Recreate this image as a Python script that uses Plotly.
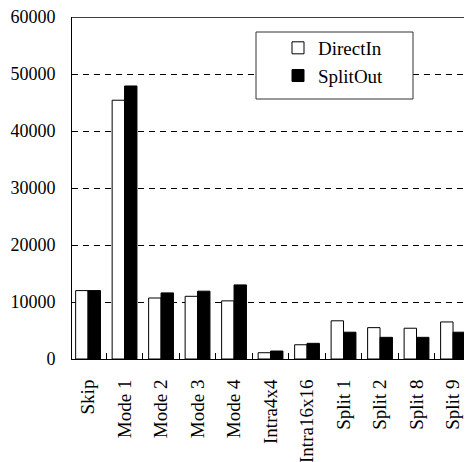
import plotly.graph_objects as go

categories = ["Skip", "Mode 1", "Mode 2", "Mode 3", "Mode 4", "Intra4x4",
              "Intra16x16", "Split 1", "Split 2", "Split 8", "Split 9"]
direct_in = [12000, 45400, 10700, 11000, 10200, 1100, 2500, 6700, 5500, 5400, 6500]
split_out = [12000, 47900, 11600, 11900, 13000, 1400, 2750, 4700, 3800, 3800, 4700]
y_ticks = [0, 10000, 20000, 30000, 40000, 50000, 60000]
y_tick_text = ["0", "10000", "20000", "30000", "40000", "50000", "60000"]

FONT = "Liberation Serif, Times New Roman, serif"

fig = go.Figure()
fig.add_trace(go.Bar(name="DirectIn", x=categories, y=direct_in,
                     marker=dict(color="white", line=dict(color="black", width=1))))
fig.add_trace(go.Bar(name="SplitOut", x=categories, y=split_out,
                     marker=dict(color="black", line=dict(color="black", width=1))))

# page body has an 8px margin, so the figure is sized/offset to compensate
fig.update_layout(
    width=464, height=454,
    margin=dict(l=64, r=0, t=9, b=103, autoexpand=False),
    paper_bgcolor="white", plot_bgcolor="white",
    barmode="group", bargap=0.32, bargroupgap=0.0,
    font=dict(family=FONT, color="black"),
    showlegend=True,
    legend=dict(x=0.515, y=0.965, xanchor="left", yanchor="top",
                bgcolor="rgba(0,0,0,0)", borderwidth=0,
                font=dict(size=19, family=FONT), tracegroupgap=0,
                itemwidth=30),
    xaxis=dict(range=[-0.44, 10.52], showline=True, linecolor="black", linewidth=1,
               ticks="inside", tickson="boundaries", ticklen=6, tickcolor="black",
               tickangle=-90, tickfont=dict(size=19, family=FONT),
               ticklabelstandoff=12, showgrid=False, automargin=False,
               ticklabeloverflow="allow"),
    yaxis=dict(range=[0, 60000], tickvals=y_ticks, ticktext=y_tick_text,
               showline=True, linecolor="black", automargin=False,
               linewidth=1, ticks="", tickfont=dict(size=18, family=FONT),
               ticklabelstandoff=12, ticklabeloverflow="allow",
               showgrid=True, gridcolor="black", gridwidth=1,
               griddash="6px,5px", zeroline=False),
    shapes=[
        dict(type="line", xref="paper", yref="y", x0=0, x1=1, y0=60000, y1=60000,
             line=dict(color="black", width=1.5)),
        dict(type="rect", xref="paper", yref="paper",
             x0=(256 - 72) / 400, x1=(413 - 72) / 400,
             y0=(359 - 99) / 342, y1=(359 - 32) / 342,
             line=dict(color="#333", width=1), fillcolor="white", layer="above"),
    ],
)
fig.write_html("out.html")
